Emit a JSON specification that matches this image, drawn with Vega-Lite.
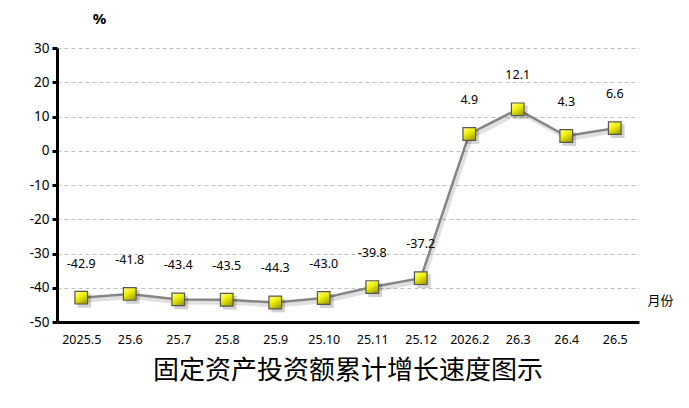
{
  "$schema": "https://vega.github.io/schema/vega-lite/v6.json",
  "width": 582,
  "height": 274,
  "autosize": "none",
  "padding": {"left": 57, "top": 48, "right": 50, "bottom": 86},
  "background": "#ffffff",
  "config": {
    "view": {"stroke": null},
    "font": "Noto Sans"
  },
  "title": {
    "text": "固定资产投资额累计增长速度图示",
    "orient": "bottom",
    "anchor": "middle",
    "font": "Noto Sans CJK SC",
    "fontSize": 26,
    "fontWeight": "normal",
    "color": "#000000",
    "offset": 12
  },
  "data": {
    "values": [
      {"m": "2025.5", "v": -42.9, "lab": "-42.9"},
      {"m": "25.6", "v": -41.8, "lab": "-41.8"},
      {"m": "25.7", "v": -43.4, "lab": "-43.4"},
      {"m": "25.8", "v": -43.5, "lab": "-43.5"},
      {"m": "25.9", "v": -44.3, "lab": "-44.3"},
      {"m": "25.10", "v": -43.0, "lab": "-43.0"},
      {"m": "25.11", "v": -39.8, "lab": "-39.8"},
      {"m": "25.12", "v": -37.2, "lab": "-37.2"},
      {"m": "2026.2", "v": 4.9, "lab": "4.9"},
      {"m": "26.3", "v": 12.1, "lab": "12.1"},
      {"m": "26.4", "v": 4.3, "lab": "4.3"},
      {"m": "26.5", "v": 6.6, "lab": "6.6"}
    ]
  },
  "encoding": {
    "x": {
      "field": "m",
      "type": "ordinal",
      "sort": null,
      "scale": {"paddingInner": 0, "paddingOuter": 0, "align": 0.5},
      "axis": {
        "title": "月份",
        "titleFont": "Noto Sans CJK SC",
        "titleFontSize": 13,
        "titleFontWeight": "normal",
        "titleColor": "#000000",
        "titleX": 603,
        "titleY": -22,
        "titleAlign": "center",
        "titleBaseline": "middle",
        "labelAngle": 0,
        "labelFontSize": 12.5,
        "labelColor": "#000000",
        "labelPadding": 11,
        "ticks": false,
        "domainColor": "#000000",
        "domainWidth": 3,
        "grid": false
      }
    },
    "y": {
      "field": "v",
      "type": "quantitative",
      "scale": {"domain": [-50, 30], "nice": false},
      "axis": {
        "values": [-50, -40, -30, -20, -10, 0, 10, 20, 30],
        "labelExpr": "replace(datum.label, '\u2212', '-')",
        "title": "%",
        "titleAngle": 0,
        "titleX": 42,
        "titleY": -30,
        "titleAlign": "center",
        "titleBaseline": "middle",
        "titleFontSize": 15,
        "titleFontWeight": "bold",
        "titleColor": "#000000",
        "labelFontSize": 13.5,
        "labelColor": "#000000",
        "labelPadding": 3,
        "domainColor": "#000000",
        "domainWidth": 3,
        "tickColor": "#000000",
        "tickWidth": 3,
        "tickSize": 5,
        "gridColor": "#c0c0c0",
        "gridDash": [4, 3],
        "gridWidth": 1
      }
    }
  },
  "layer": [
    {
      "mark": {"type": "line", "color": "#000000", "opacity": 0.12, "strokeWidth": 4, "xOffset": 2, "yOffset": 3}
    },
    {
      "mark": {"type": "line", "color": "#858585", "strokeWidth": 2.5}
    },
    {
      "mark": {"type": "square", "size": 190, "color": "#000000", "opacity": 0.18, "xOffset": 3, "yOffset": 3, "strokeWidth": 0}
    },
    {
      "mark": {
        "type": "square",
        "size": 160,
        "opacity": 1,
        "filled": true,
        "stroke": "#555555",
        "strokeWidth": 1.2,
        "fill": {
          "gradient": "linear",
          "x1": 0, "y1": 0, "x2": 0.6, "y2": 1,
          "stops": [
            {"offset": 0, "color": "#ffffa0"},
            {"offset": 0.5, "color": "#f0f000"},
            {"offset": 1, "color": "#a8a800"}
          ]
        }
      }
    },
    {
      "mark": {"type": "text", "dy": -34, "fontSize": 12.5, "color": "#000000"},
      "encoding": {
        "text": {"field": "lab", "type": "nominal"}
      }
    }
  ]
}
